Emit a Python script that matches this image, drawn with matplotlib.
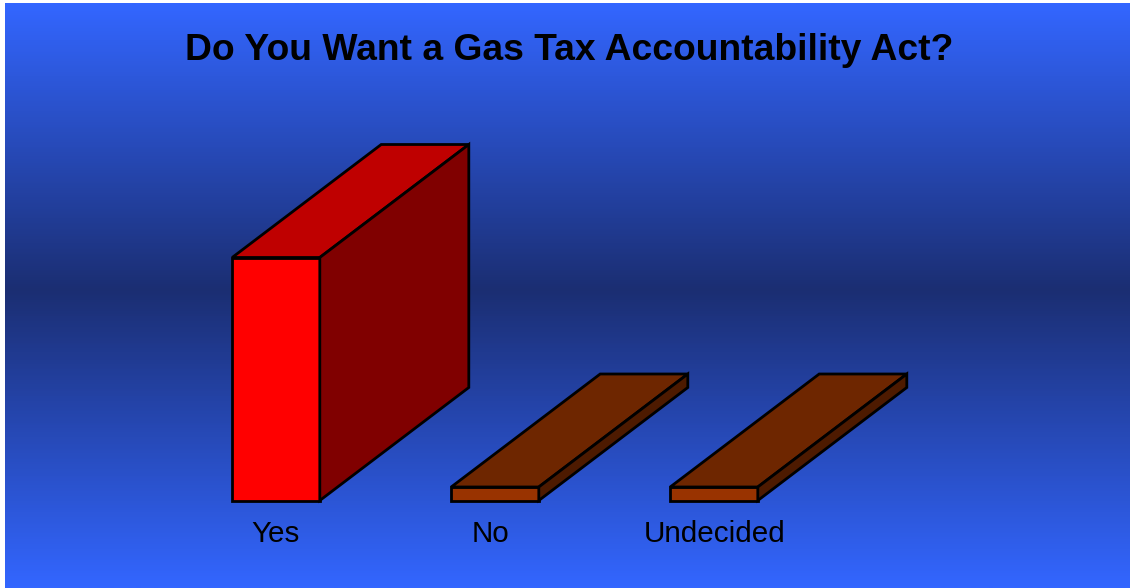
import matplotlib
matplotlib.use("Agg")
import matplotlib.pyplot as plt
import numpy as np
from matplotlib.patches import Polygon
from matplotlib.colors import LinearSegmentedColormap

plt.rcParams['font.family'] = ['Liberation Sans', 'DejaVu Sans']

# survey results (percent)
categories = ["Yes", "No", "Undecided"]
values = [90, 5, 5]

title = "Do You Want a Gas Tax Accountability Act?"

# face colours: front, top, side
face_colors = {
    "Yes": ("#FF0000", "#BF0000", "#800000"),
    "No": ("#993300", "#6E2600", "#4D1A00"),
    "Undecided": ("#993300", "#6E2600", "#4D1A00"),
}

W, H = 1130, 588
fig = plt.figure(figsize=(W / 100, H / 100), dpi=100)
fig.patch.set_facecolor("white")

# background gradient (bright blue -> navy -> bright blue)
bg = fig.add_axes([5 / W, 0, 1 - 5 / W, 1 - 3 / H])
bg.set_axis_off()
cmap = LinearSegmentedColormap.from_list(
    "bg", [(0.0, "#3366FF"), (0.49, "#1B2E72"), (1.0, "#3366FF")])
grad = np.linspace(0, 1, 600).reshape(-1, 1)
bg.imshow(grad, cmap=cmap, aspect="auto", extent=[0, 1, 0, 1], origin="upper")

ax = fig.add_axes([0, 0, 1, 1], facecolor="none")
ax.set_axis_off()

px_x = 219.0          # pixels per category
px_y = 243.0 / 90     # pixels per percent
x0 = 276.0            # first bar centre, px
base = 87.5           # baseline height above bottom, px
ax.set_xlim(-x0 / px_x, (W - x0) / px_x)
ax.set_ylim(-base / px_y, (H - base) / px_y)

width = 0.4
dx = 149 / px_x
dy = 113 / px_y

label_shift = [0, -4, 1]   # small nudges in px

for i, (cat, v) in enumerate(zip(categories, values)):
    front, top, side = face_colors[cat]
    l, r = i - width / 2, i + width / 2
    kw = dict(edgecolor="black", linewidth=2, joinstyle="miter", zorder=3)
    ax.add_patch(Polygon([(l, 0), (r, 0), (r, v), (l, v)], facecolor=front, **kw))
    ax.add_patch(Polygon([(l, v), (r, v), (r + dx, v + dy), (l + dx, v + dy)],
                         facecolor=top, **kw))
    ax.add_patch(Polygon([(r, 0), (r + dx, dy), (r + dx, v + dy), (r, v)],
                         facecolor=side, **kw))
    ax.text(i + label_shift[i] / px_x, -33 / px_y, cat, ha="center", va="center",
            fontsize=21.3, color="black")

fig.text(569 / W, 1 - 50 / H, title, ha="center", va="center",
         fontsize=26.8, fontweight="bold", color="black")

fig.savefig("out.png", dpi=100)
